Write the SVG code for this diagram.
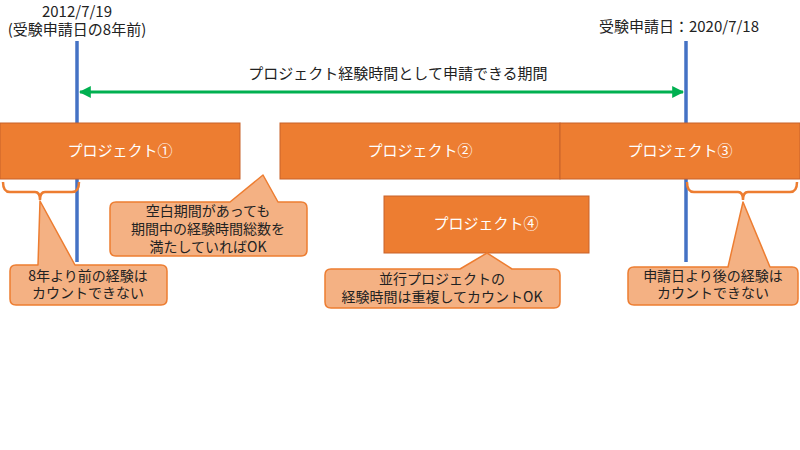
<svg xmlns="http://www.w3.org/2000/svg" width="800" height="450" viewBox="0 0 800 450">
<defs>
<marker id="ah" viewBox="0 0 10 10" refX="9" refY="5" markerWidth="4" markerHeight="4" orient="auto-start-reverse" markerUnits="strokeWidth">
<path d="M0,0 L10,5 L0,10 Z" fill="#00B050"/>
</marker>
</defs>
<style>
text{font-family:"Noto Sans CJK JP","Noto Sans",sans-serif;text-anchor:middle;}
.lbl{font-size:15px;fill:#222;}
.proj rect{fill:#ED7D31;stroke:#C8622A;stroke-width:1;}
.proj text{font-size:15px;fill:#fff;}
.call path{fill:#F4B183;stroke:#ED7D31;stroke-width:1.5;stroke-linejoin:round;}
.call text{font-size:14px;fill:#222;}
.vline{stroke:#4472C4;stroke-width:3.5;}
.brace{fill:none;stroke:#ED7D31;stroke-width:2.5;}
</style>
<rect width="800" height="450" fill="#fff"/>
<g id="labels">
<text class="lbl" x="77" y="17">2012/7/19</text>
<text class="lbl" x="77" y="35">(受験申請日の8年前)</text>
<text class="lbl" x="679" y="32">受験申請日：2020/7/18</text>
<text class="lbl" x="398" y="79">プロジェクト経験時間として申請できる期間</text>
</g>
<g id="connectors">
<line class="vline" x1="77" y1="41" x2="77" y2="262"/>
<line class="vline" x1="686" y1="41" x2="686" y2="262"/>
<line x1="80" y1="92" x2="683" y2="92" stroke="#00B050" stroke-width="3" marker-start="url(#ah)" marker-end="url(#ah)"/>
<path class="brace" d="M3,182 Q3,192 10,192 L35,192 Q40,192 40,200 Q40,192 45,192 L72,192 Q79,192 79,182"/>
<path class="brace" d="M687,182 Q687,192 694,192 L738,192 Q743,192 743,200 Q743,192 748,192 L790,192 Q797,192 797,182"/>
</g>
<g id="p1" class="proj"><rect x="0" y="123" width="240" height="56"/><text x="120" y="156">プロジェクト①</text></g>
<g id="p2" class="proj"><rect x="280" y="123" width="280" height="56"/><text x="420" y="156">プロジェクト②</text></g>
<g id="p3" class="proj"><rect x="560" y="123" width="240" height="56"/><text x="680" y="156">プロジェクト③</text></g>
<g id="p4" class="proj"><rect x="384" y="196" width="205" height="57"/><text x="486" y="229">プロジェクト④</text></g>
<g id="c1" class="call">
<path d="M16,265 L38,265 L40,201 L75,265 L161,265 Q167,265 167,271 L167,299 Q167,305 161,305 L16,305 Q10,305 10,299 L10,271 Q10,265 16,265 Z"/>
<text x="88" y="281">8年より前の経験は</text>
<text x="88" y="298">カウントできない</text>
</g>
<g id="c2" class="call">
<path d="M116,202 L230,202 L263,175 L278,202 L301,202 Q307,202 307,208 L307,250 Q307,256 301,256 L116,256 Q110,256 110,250 L110,208 Q110,202 116,202 Z"/>
<text x="208" y="216">空白期間があっても</text>
<text x="208" y="234">期間中の経験時間総数を</text>
<text x="208" y="252">満たしていればOK</text>
</g>
<g id="c3" class="call">
<path d="M331,269 L460,269 L487,253 L512,269 L554,269 Q560,269 560,275 L560,302 Q560,308 554,308 L331,308 Q325,308 325,302 L325,275 Q325,269 331,269 Z"/>
<text x="442" y="284">並行プロジェクトの</text>
<text x="442" y="302">経験時間は重複してカウントOK</text>
</g>
<g id="c4" class="call">
<path d="M634,267 L728,267 L743,202 L770,267 L792,267 Q798,267 798,273 L798,299 Q798,305 792,305 L634,305 Q628,305 628,299 L628,273 Q628,267 634,267 Z"/>
<text x="713" y="281">申請日より後の経験は</text>
<text x="713" y="298">カウントできない</text>
</g>
</svg>
